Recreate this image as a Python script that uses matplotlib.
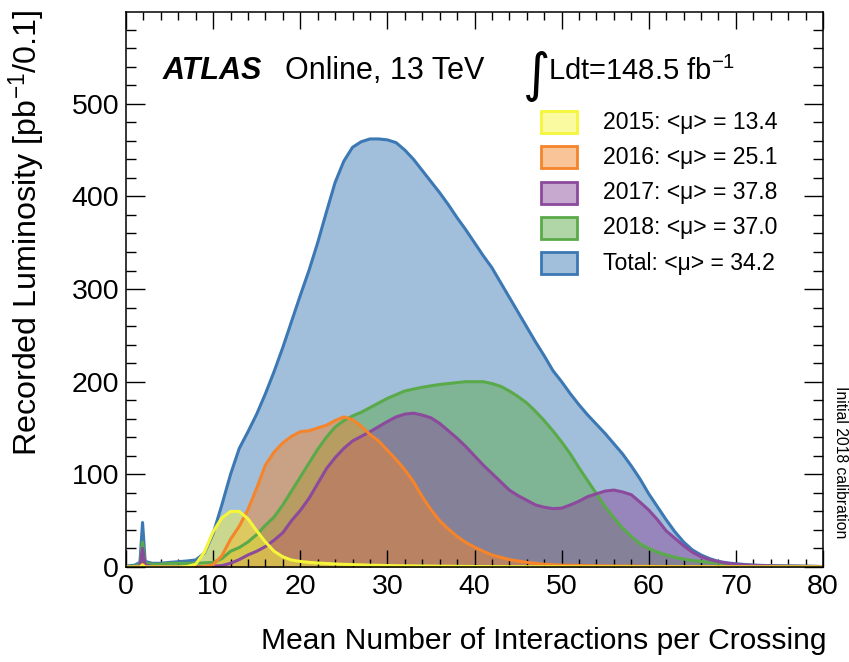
import matplotlib
matplotlib.use('Agg')
import matplotlib.pyplot as plt
from matplotlib.patches import Rectangle
from matplotlib.ticker import MultipleLocator

plt.rcParams['font.family'] = ['Liberation Sans', 'DejaVu Sans']
plt.rcParams['mathtext.fontset'] = 'custom'
plt.rcParams['mathtext.rm'] = 'Liberation Sans'
plt.rcParams['mathtext.it'] = 'Liberation Sans:italic'
plt.rcParams['mathtext.bf'] = 'Liberation Sans:bold'

# ---------------- data ----------------
mu = ([0, 1, 1.6, 1.9, 2.2] + list(range(3, 71)) + [72, 75, 80])

lumi_2015 = ([0, 0, 0, 2, 0] +
             [0, 0, 0, 0, 0.5, 3, 16, 38] +
             [53, 60, 60, 52, 39, 27, 17, 11, 7.5, 6] +
             [5, 4.3, 3.8, 3.3, 2.9, 2.6, 2.3, 2, 1.8, 1.6] +
             [1.4, 1.3, 1.2, 1.1, 1, 0.9, 0.8, 0.7, 0.6, 0.5] +
             [0.5, 0.4, 0.4, 0.3, 0.3, 0.3, 0.2, 0.2, 0.2, 0.2] +
             [0.1, 0.1, 0.1, 0.1, 0.1, 0.1, 0.1, 0.1, 0.1, 0.1] +
             [0, 0, 0, 0, 0, 0, 0, 0, 0, 0] +
             [0, 0, 0])

lumi_2016 = ([0, 0, 0, 3, 0] +
             [0, 0, 0, 0, 0, 0, 0.5, 2.5] +
             [12, 30, 44, 62, 85, 110, 124, 134, 141, 146] +
             [147, 150, 153, 158, 162, 159, 152, 143, 136, 126] +
             [116, 105, 92, 76, 62, 50, 41, 33, 26.5, 21.5] +
             [17, 13, 10.5, 8, 6.5, 5, 4, 3, 2.5, 2] +
             [1.8, 1.6, 1.4, 1.3, 1.2, 1.1, 1, 0.9, 0.8, 0.7] +
             [0.6, 0.5, 0.5, 0.4, 0.4, 0.3, 0.3, 0.3, 0.2, 0.2] +
             [0.1, 0.1, 0])

lumi_2017 = ([0, 0, 1, 20, 2] +
             [0.5, 0.5, 0.5, 0.5, 0.5, 0.5, 0.5, 1] +
             [1.5, 4, 8, 13, 17, 22, 29, 37, 50, 61] +
             [74, 90, 106, 118, 128, 136, 141, 146, 151.5, 157] +
             [162, 165, 166, 164, 161, 155, 147, 139, 130, 120] +
             [110, 101, 92, 83, 77, 72, 67, 64.5, 63, 63.5] +
             [67, 71, 76, 79, 82, 83, 81, 78, 70, 61.5] +
             [51, 39, 31, 23, 16, 11, 8, 5.7, 4, 3] +
             [1.8, 1, 0.5])

lumi_2018 = ([0.5, 1, 3, 27, 4] +
             [3, 3, 4, 4, 4, 4, 4.5, 5] +
             [9, 17, 21, 27, 35, 45, 54, 67, 82, 97] +
             [112, 127, 140, 151, 158, 163, 167, 172, 177, 182] +
             [186, 190, 192, 194, 195.5, 197, 198, 199, 200, 200] +
             [200, 198, 195, 190, 184, 177, 168, 158, 147, 135] +
             [122, 107, 93, 79, 65, 53, 42, 33, 25, 20] +
             [16, 13, 10.5, 8.5, 7, 6, 5, 4, 3, 2.5] +
             [1.5, 1, 0.5])

lumi_total = ([1, 2, 5, 48, 6] +
              [4, 4, 5, 5.7, 6.5, 7.6, 15, 36] +
              [67, 100, 128, 146, 165, 187, 211, 237, 265, 293] +
              [320, 350, 383, 415, 438, 453, 459, 462, 462, 461] +
              [458, 450, 440, 428, 416, 404, 391, 377, 364, 350] +
              [336, 323, 307, 291, 275, 259, 243, 228, 212, 200] +
              [187, 175, 164, 154, 144, 133, 122, 109, 95, 79] +
              [65, 51, 38, 27, 18.5, 13, 9, 6, 4.5, 3.5] +
              [2, 1.2, 0.5])

labels = ['2015: <μ> = 13.4', '2016: <μ> = 25.1', '2017: <μ> = 37.8',
          '2018: <μ> = 37.0', 'Total: <μ> = 34.2']
series = [lumi_2015, lumi_2016, lumi_2017, lumi_2018, lumi_total]
line_colors = ['#f5f53a', '#f5842a', '#8b4a9c', '#5aaa4a', '#3b78b4']

# ---------------- figure ----------------
W, H = 849, 662
fig = plt.figure(figsize=(W / 100, H / 100), dpi=100)
ax = fig.add_axes([126 / W, 95 / H, 697 / W, 555 / H])

draw_order = [4, 3, 2, 1, 0]
for i in draw_order:
    ax.fill_between(mu, series[i], 0, color=line_colors[i], alpha=0.48, lw=0)
    ax.plot(mu, series[i], color=line_colors[i], lw=2.2, solid_joinstyle='round')

ax.set_xlim(0, 80)
ax.set_ylim(0, 599)
ax.xaxis.set_major_locator(MultipleLocator(10))
ax.xaxis.set_minor_locator(MultipleLocator(2))
ax.yaxis.set_major_locator(MultipleLocator(100))
ax.yaxis.set_minor_locator(MultipleLocator(20))
ax.tick_params(which='both', direction='in', top=True, right=True, width=1.0,
               labelsize=20.5)
ax.tick_params(axis='x', which='major', length=12, pad=5)
ax.tick_params(axis='x', which='minor', length=6)
ax.tick_params(axis='y', which='major', length=14, pad=5)
ax.tick_params(axis='y', which='minor', length=7)
for s in ax.spines.values():
    s.set_linewidth(1.1)

ax.set_xlabel('Mean Number of Interactions per Crossing', fontsize=21.6, loc='right')
ax.xaxis.set_label_coords((826 - 126) / 697, -(627 - 567) / 555)
ax.set_ylabel('Recorded Luminosity [pb$^{-1}$/0.1]', fontsize=23.2, loc='top')
ax.yaxis.set_label_coords((48 - 126) / 697, (567 - 10) / 555)


def fx(px):
    return px / W


def fy(py):
    return 1 - py / H


fig.text(fx(163), fy(79), 'ATLAS', fontsize=22, fontweight='bold', fontstyle='italic',
         ha='left', va='baseline')
fig.text(fx(285), fy(79), 'Online, 13 TeV', fontsize=22, ha='left', va='baseline')
fig.text(fx(523), fy(91), '∫', fontsize=38, ha='left', va='baseline',
         family=['DejaVu Sans'])
fig.text(fx(548), fy(80), 'Ldt=148.5 fb$^{-1}$', fontsize=21, ha='left', va='baseline')

for k in range(5):
    yc = 122 + 35.3 * k
    r = Rectangle((fx(541), fy(yc + 11)), fx(577) - fx(541), (22) / H,
                  transform=fig.transFigure, facecolor=line_colors[k], alpha=0.48,
                  edgecolor='none')
    fig.add_artist(r)
    r2 = Rectangle((fx(541), fy(yc + 11)), fx(577) - fx(541), (22) / H,
                   transform=fig.transFigure, facecolor='none',
                   edgecolor=line_colors[k], lw=2)
    fig.add_artist(r2)
    fig.text(fx(603), fy(yc), labels[k], fontsize=16.6, ha='left', va='center')

fig.text(fx(841), fy(462), 'Initial 2018 calibration', fontsize=11.3, rotation=-90,
         ha='center', va='center')

fig.savefig('out.png', dpi=100)
